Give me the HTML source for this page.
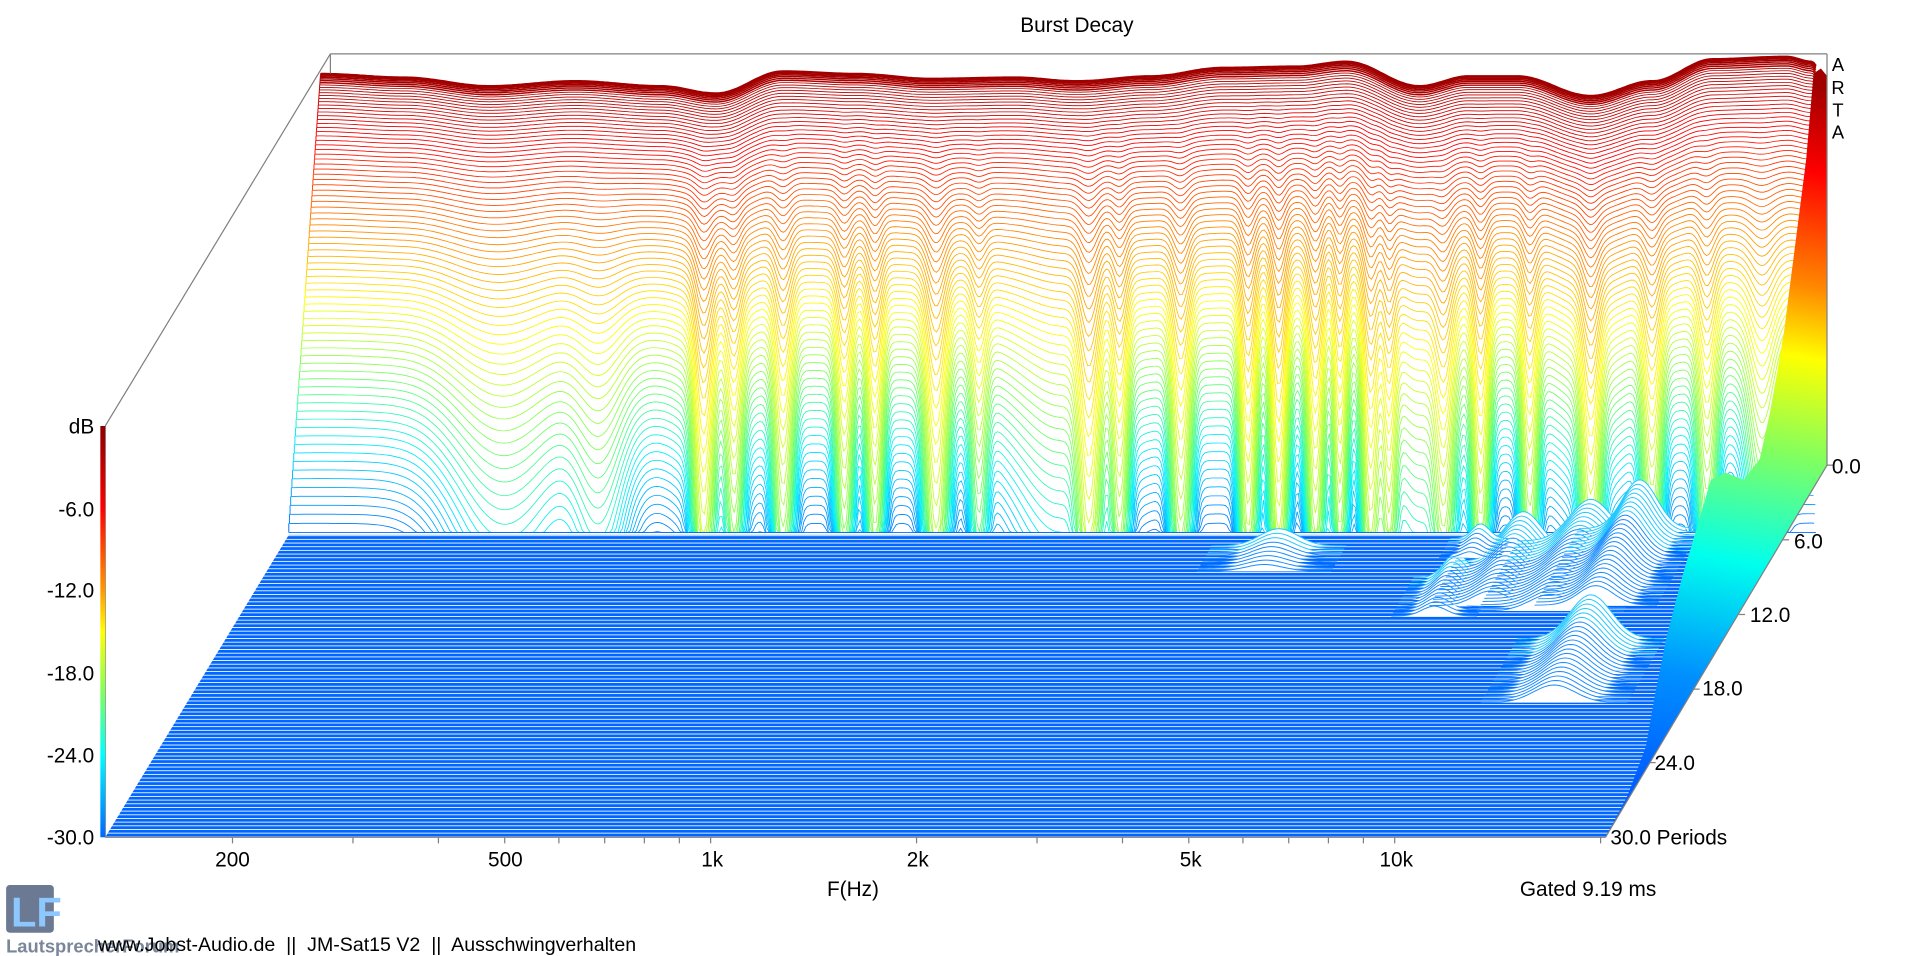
<!DOCTYPE html>
<html><head><meta charset="utf-8"><style>
html,body{margin:0;padding:0;background:#fff;overflow:hidden}
svg{display:block}
text{font-family:"Liberation Sans",Arial,sans-serif;fill:#000}
</style></head><body>
<svg id="s" width="1909" height="956" viewBox="0 0 1560 781" preserveAspectRatio="none" xmlns="http://www.w3.org/2000/svg">
<defs>
<pattern id="fl" patternUnits="userSpaceOnUse" width="10" height="3">
<rect width="10" height="3" fill="#fff"/><rect width="10" height="2.3" fill="#0066ff"/>
</pattern>
<linearGradient id="cb" x1="0" y1="0" x2="0" y2="1">
<stop offset="0" stop-color="#8b0000"/><stop offset="0.2" stop-color="#ff0000"/>
<stop offset="0.4" stop-color="#ff9900"/><stop offset="0.5" stop-color="#ffff00"/>
<stop offset="0.65" stop-color="#7fff60"/><stop offset="0.8" stop-color="#00ffff"/>
<stop offset="1" stop-color="#0066ff"/></linearGradient>
<linearGradient id="rs" gradientUnits="userSpaceOnUse" x1="1485" y1="70" x2="1380" y2="640">
<stop offset="0" stop-color="#a00000"/><stop offset="0.12" stop-color="#ff0000"/>
<stop offset="0.28" stop-color="#ff8800"/><stop offset="0.38" stop-color="#ffff00"/>
<stop offset="0.52" stop-color="#80ff60"/><stop offset="0.68" stop-color="#00ffee"/>
<stop offset="0.85" stop-color="#0090ff"/><stop offset="1" stop-color="#0060ff"/></linearGradient>
</defs>
<g id="wall"></g>
<polygon points="236,437 1459,437 1312,684 86,684" fill="url(#fl)"/>
<g id="bumps"></g>
<polygon points="1482,60 1488,56 1493,62 1493,380 1312,684 1330,650 1345,610 1352,570 1362,520 1375,470 1390,420 1398,392 1410,386 1425,392 1438,375 1448,330 1458,270 1467,200 1476,130" fill="url(#rs)"/>
<g stroke="#808080" stroke-width="1" fill="none">
<line x1="270" y1="44" x2="1493" y2="44"/>
<line x1="270" y1="44" x2="86" y2="348"/>
<line x1="270" y1="44" x2="270" y2="60"/>
<line x1="1493" y1="44" x2="1493" y2="380"/>
<line x1="86" y1="684" x2="1312" y2="684"/>
<line x1="1312" y1="684" x2="1493" y2="380"/>
<line x1="86" y1="348" x2="86" y2="684"/>
<line x1="1493" y1="380" x2="1498" y2="380"/>
<line x1="1457" y1="441" x2="1462" y2="441"/>
<line x1="1421" y1="502" x2="1426" y2="502"/>
<line x1="1384" y1="563" x2="1389" y2="563"/>
<line x1="1348" y1="623" x2="1353" y2="623"/>
</g>
<g id="ticks" stroke="#808080" stroke-width="1"></g>
<rect x="82" y="348" width="4" height="336" fill="url(#cb)"/>
<text x="880" y="26" font-size="17" text-anchor="middle">Burst Decay</text>
<g font-size="17" text-anchor="end">
<text x="77" y="354">dB</text>
<text x="77" y="422">-6.0</text>
<text x="77" y="488">-12.0</text>
<text x="77" y="556">-18.0</text>
<text x="77" y="623">-24.0</text>
<text x="77" y="690">-30.0</text>
</g>
<g font-size="17">
<text x="1497" y="387">0.0</text>
<text x="1466" y="448">6.0</text>
<text x="1430" y="508">12.0</text>
<text x="1391" y="568">18.0</text>
<text x="1352" y="629">24.0</text>
<text x="1316" y="690">30.0 Periods</text>
</g>
<g font-size="15" text-anchor="middle">
<text x="1502" y="58">A</text><text x="1502" y="77">R</text><text x="1502" y="95">T</text><text x="1502" y="113">A</text>
</g>
<g font-size="17" text-anchor="middle">
<text x="190" y="708">200</text><text x="413" y="708">500</text><text x="582" y="708">1k</text>
<text x="750" y="708">2k</text><text x="973" y="708">5k</text><text x="1141" y="708">10k</text>
<text x="697" y="732">F(Hz)</text>
</g>
<text x="1242" y="732" font-size="17">Gated 9.19 ms</text>
<rect x="5" y="723" width="39" height="39" rx="3" fill="#6b7a92"/>
<text x="9" y="757" font-size="34" font-weight="bold" style="fill:#8cc8ff">LF</text>
<text x="5" y="778" font-size="15" font-weight="bold" style="fill:#7a8699">LautsprecherForum</text>
<text x="80" y="777" font-size="16" xml:space="preserve">www.Jobst-Audio.de  ||  JM-Sat15 V2  ||  Ausschwingverhalten</text>
</svg>
<script>
(function(){
var NS="http://www.w3.org/2000/svg";
function el(p,n,a){var e=document.createElementNS(NS,n);for(var k in a)e.setAttribute(k,a[k]);p.appendChild(e);return e;}
var tk=document.getElementById('ticks');
var x200=190,dec=559;
[200,300,400,500,600,700,800,900,1000,2000,3000,4000,5000,6000,7000,8000,9000,10000,20000].forEach(function(f){
 var x=x200+Math.log10(f/200)*dec; if(x>1312)return;
 el(tk,'line',{x1:x,y1:684,x2:x,y2:689});
});
var tp=[[230,62],[262,60],[330,63],[400,70],[470,66],[540,70],[585,76],[640,58],[700,60],[760,64],[830,63],[880,66],[940,62],[1000,55],[1060,54],[1100,50],[1160,70],[1200,62],[1240,62],[1300,78],[1350,66],[1400,48],[1460,46],[1480,50],[1495,70]];
function ytop(x){for(var i=0;i<tp.length-1;i++){if(x<=tp[i+1][0]){var t=(x-tp[i][0])/(tp[i+1][0]-tp[i][0]);t=(1-Math.cos(Math.PI*t))/2;return tp[i][1]+t*(tp[i+1][1]-tp[i][1]);}}return tp[tp.length-1][1];}
var dips=[[420,0.25,50],[490,0.35,22],[575,1.4,8],[600,0.8,7],[640,1.0,8],[690,0.9,7],[715,1.0,7],[765,1.3,9],[800,0.6,7],[890,1.4,9],[915,1.0,7],[965,1.1,8],[1020,1.3,7],[1045,1.5,7],[1075,1.2,7],[1095,1.0,6],[1120,1.3,7],[1135,1.0,6],[1180,0.9,8],[1210,1.2,7],[1250,1.0,7],[1300,1.2,8],[1350,1.0,8],[1395,0.8,8],[1440,0.6,12],[860,0.2,40],[1160,0.25,30]];
var wave=[[400,0.12,40],[585,0.15,30],[880,0.1,40],[1160,0.15,25],[1300,0.15,30]];
function D(x,arr){var r=0;for(var i=0;i<arr.length;i++){var d=(x-arr[i][0])/arr[i][2];r+=arr[i][1]*Math.exp(-d*d);}return r;}
var stops=[[0,[160,0,0]],[0.15,[255,0,0]],[0.35,[255,150,0]],[0.5,[255,255,0]],[0.66,[110,255,100]],[0.8,[0,240,255]],[1,[0,110,255]]];
function col(u){for(var i=0;i<stops.length-1;i++){if(u<=stops[i+1][0]){var t=(u-stops[i][0])/(stops[i+1][0]-stops[i][0]);var a=stops[i][1],b=stops[i+1][1];return 'rgb('+Math.round(a[0]+t*(b[0]-a[0]))+','+Math.round(a[1]+t*(b[1]-a[1]))+','+Math.round(a[2]+t*(b[2]-a[2]))+')';}}return 'rgb(0,110,255)';}
var w=document.getElementById('wall');
var N=80,yb=437;
for(var j=0;j<=N;j++){
 var u=Math.pow(j/N,1.6);
 var xl=262-26*u, pts=[];
 for(var x=xl;x<=1484;x+=2){
  var yt=ytop(x);
  var v=Math.min(1,u*(1+D(x,wave)*u)+D(x,dips)*u*u*u*1.6);
  var y=yt+(yb-yt-2)*v;
  pts.push(x.toFixed(1)+','+y.toFixed(1));
 }
 el(w,'polyline',{points:pts.join(' '),fill:'none',stroke:col(u),'stroke-width':(j<8?1.2:0.7)});
 if(j>0){var up=Math.pow((j-1)/N,1.6);var y0=ytop(xl)+(yb-ytop(xl)-2)*up;var y1=ytop(xl)+(yb-ytop(xl)-2)*u;
  el(w,'line',{x1:xl,y1:y0,x2:xl,y2:y1,stroke:col(u),'stroke-width':0.8});}
}
var bg=document.getElementById('bumps');
var bumps=[[1045,446,22,14,8],[1190,472,14,20,12],[1245,448,20,30,18],[1300,442,24,34,22],[1340,432,20,40,24],[1300,522,24,36,20],[1210,440,10,12,6]];
bumps.forEach(function(b){
 for(var k=0;k<=b[4];k++){
  var base=b[1]+k*2.6,cx=b[0]-k*1.5,h=b[3]*(1-0.6*k/b[4]),pts=[];
  for(var x=cx-2.5*b[2];x<=cx+2.5*b[2];x+=2){var d=(x-cx)/b[2];pts.push(x.toFixed(1)+','+(base-h*Math.exp(-d*d)).toFixed(1));}
  el(bg,'polyline',{points:pts.join(' '),fill:'#fff',stroke:k<b[4]*0.3?'#22c8ff':'#1a8cff','stroke-width':0.8});
 }
});
})();
</script>
</body></html>
